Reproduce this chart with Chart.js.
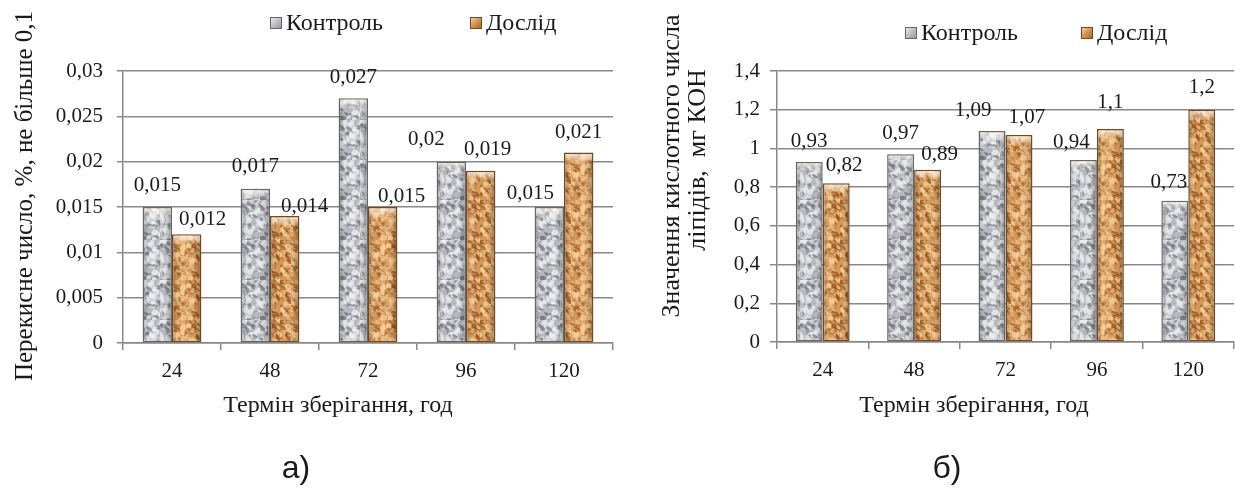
<!DOCTYPE html>
<html lang="uk">
<head>
<meta charset="utf-8">
<title>Перекисне та кислотне число</title>
<script src="https://cdn.jsdelivr.net/npm/chart.js@4.4.1/dist/chart.umd.min.js"></script>
<style>
  html, body { margin:0; padding:0; background:#fff; }
  #page { position:relative; width:1235px; height:492px; overflow:hidden; }
  canvas { position:absolute; top:0; }
  #chartA { left:0; }
  #chartB { left:640px; }
</style>
</head>
<body>
<div id="page">
  <canvas id="chartA" width="617" height="492"></canvas>
  <canvas id="chartB" width="595" height="492"></canvas>
</div>

<script>
// дані з рисунка
const hours = ['24', '48', '72', '96', '120'];
const seriesNames = ['Контроль', 'Дослід'];

const peroxideControl = [0.015, 0.017, 0.027, 0.02, 0.015];
const peroxideTest    = [0.012, 0.014, 0.015, 0.019, 0.021];
const peroxideTicks   = [0, 0.005, 0.01, 0.015, 0.02, 0.025, 0.03];

const acidControl = [0.93, 0.97, 1.09, 0.94, 0.73];
const acidTest    = [0.82, 0.89, 1.07, 1.1, 1.2];
const acidTicks   = [0, 0.2, 0.4, 0.6, 0.8, 1, 1.2, 1.4];

const xTitle = 'Термін зберігання, год';
const yTitleA = 'Перекисне число, %, не більше 0,1';
const yTitleB = ['Значення кислотного числа', 'ліпідів,  мг КОН'];

const GRID = '#888888';
const INK = '#1a1a1a';
const SERIF = '"Liberation Serif", "Times New Roman", serif';
const SANS = '"Liberation Sans", Arial, sans-serif';

const comma = (v) => String(+(+v).toFixed(3)).replace('.', ',');

// deterministic hash for the stone texture (decoration only)
const hash = (n) => { const s = Math.sin(n * 127.1 + 311.7) * 43758.5453; return s - Math.floor(s); };

function texture(ctx, tone, seed){
  const c = document.createElement('canvas');
  c.width = 40; c.height = 40;
  const g = c.getContext('2d');
  g.fillStyle = tone.base;
  g.fillRect(0, 0, 40, 40);
  for(let i = 0; i < 200; i++){
    const a = hash(seed + i * 4), b = hash(seed + i * 4 + 1), r = hash(seed + i * 4 + 2), k = hash(seed + i * 4 + 3);
    g.globalAlpha = 0.3 + 0.5 * r;
    g.fillStyle = k > 0.5 ? tone.light : tone.dark;
    g.beginPath();
    g.ellipse(a * 40, b * 40, 0.8 + 2.6 * r, 0.8 + 2.2 * k, k * 3, 0, Math.PI * 2);
    g.fill();
  }
  g.globalAlpha = 1;
  return ctx.createPattern(c, 'repeat');
}

const GRAY  = { base:'#b6b8bd', dark:'#72757e', light:'#eeeff1', edge:'#66676b', sw:['#f2f2f3', '#c3c4c8', '#8e9097'] };
const BROWN = { base:'#d4975a', dark:'#99581f', light:'#f4cd98', edge:'#75491f', sw:['#f8dcae', '#d7995a', '#9c5f27'] };

// bevel look of the bars
const bevel = {
  id: 'bevel',
  afterDatasetsDraw(chart){
    const ctx = chart.ctx;
    chart.data.datasets.forEach((ds, di) => {
      chart.getDatasetMeta(di).data.forEach(bar => {
        const { x, y, base, width } = bar.getProps(['x', 'y', 'base', 'width'], true);
        const l = x - width / 2, h = base - y;
        ctx.save();
        let g = ctx.createLinearGradient(l, 0, l + width, 0);
        g.addColorStop(0, 'rgba(0,0,0,0.25)');
        g.addColorStop(0.2, 'rgba(0,0,0,0)');
        g.addColorStop(0.75, 'rgba(0,0,0,0)');
        g.addColorStop(1, 'rgba(0,0,0,0.32)');
        ctx.fillStyle = g;
        ctx.fillRect(l + 1.5, y + 1.5, width - 3, h - 3);
        g = ctx.createLinearGradient(0, y, 0, y + 10);
        g.addColorStop(0, 'rgba(255,250,240,0.9)');
        g.addColorStop(1, 'rgba(255,250,240,0)');
        ctx.fillStyle = g;
        ctx.fillRect(l + 1.5, y + 1.5, width - 3, Math.min(10, h - 3));
        ctx.restore();
      });
    });
  }
};

// value labels above bars
const valueLabels = {
  id: 'valueLabels',
  afterDatasetsDraw(chart, args, opts){
    const ctx = chart.ctx;
    ctx.save();
    ctx.font = `21px ${SERIF}`;
    ctx.fillStyle = INK;
    ctx.textAlign = 'center';
    ctx.textBaseline = 'middle';
    chart.data.datasets.forEach((ds, di) => {
      const nudge = opts.nudge[di];
      chart.getDatasetMeta(di).data.forEach((bar, i) => {
        ctx.fillText(comma(ds.data[i]), bar.x + nudge.dx[i], bar.y - nudge.dy[i]);
      });
    });
    ctx.restore();
  }
};

// legend: small bevelled square + name
const swatchLegend = {
  id: 'swatchLegend',
  afterDraw(chart, args, opts){
    const ctx = chart.ctx;
    ctx.save();
    ctx.font = `24px ${SERIF}`;
    ctx.textAlign = 'left';
    ctx.textBaseline = 'middle';
    chart.data.datasets.forEach((ds, i) => {
      const tone = opts.tones[i], x = opts.x[i], y = opts.y;
      const g = ctx.createLinearGradient(x, y - 6, x + 12, y + 6);
      g.addColorStop(0, tone.sw[0]); g.addColorStop(0.45, tone.sw[1]); g.addColorStop(1, tone.sw[2]);
      ctx.fillStyle = g;
      ctx.fillRect(x, y - 6, 12, 12);
      ctx.strokeStyle = tone.edge; ctx.lineWidth = 1;
      ctx.strokeRect(x + 0.5, y - 5.5, 11, 11);
      ctx.fillStyle = INK;
      ctx.fillText(ds.label, x + 16, y + 1);
    });
    ctx.restore();
  }
};

// axis titles and captions
const captions = {
  id: 'captions',
  afterDraw(chart, args, opts){
    const ctx = chart.ctx;
    opts.items.forEach(it => {
      ctx.save();
      ctx.font = `${it.size}px ${it.family || SERIF}`;
      ctx.fillStyle = INK;
      ctx.textAlign = 'center';
      ctx.textBaseline = 'middle';
      ctx.translate(it.x, it.y);
      if(it.rot) ctx.rotate(it.rot);
      ctx.fillText(it.text, 0, 0);
      ctx.restore();
    });
  }
};

function makeChart(id, o){
  const canvas = document.getElementById(id);
  const ctx = canvas.getContext('2d');
  return new Chart(ctx, {
    type: 'bar',
    data: {
      labels: hours,
      datasets: [
        { label: seriesNames[0], data: o.control, backgroundColor: texture(ctx, GRAY, 11), borderColor: GRAY.edge, borderWidth: 1.5, borderSkipped: false },
        { label: seriesNames[1], data: o.test, backgroundColor: texture(ctx, BROWN, 57), borderColor: BROWN.edge, borderWidth: 1.5, borderSkipped: false }
      ]
    },
    options: {
      responsive: false,
      animation: false,
      events: [],
      layout: { padding: { top: o.top, right: o.right, left: 0, bottom: 0 } },
      datasets: { bar: { categoryPercentage: o.cat, barPercentage: 1 } },
      plugins: {
        legend: { display: false },
        tooltip: { enabled: false },
        valueLabels: { nudge: o.nudge },
        swatchLegend: { tones: [GRAY, BROWN], x: o.legendX, y: o.legendY },
        captions: { items: o.texts }
      },
      scales: {
        x: {
          grid: { offset: true, drawOnChartArea: false, color: GRID, lineWidth: 1.5, tickLength: 7 },
          border: { color: GRID, width: 1.5 },
          ticks: { color: INK, font: { family: SERIF, size: 21 }, padding: 9 },
          afterFit: (s) => { s.height = o.xh; }
        },
        y: {
          min: o.ticks[0],
          max: o.ticks[o.ticks.length - 1],
          ticks: { stepSize: o.ticks[1] - o.ticks[0], color: INK, font: { family: SERIF, size: 21 }, padding: o.tickPad, callback: (v) => comma(v) },
          grid: { color: GRID, lineWidth: 1.5, tickLength: o.tickLen },
          border: { color: GRID, width: 1.5 },
          afterFit: (s) => { s.width = o.yw; }
        }
      }
    },
    plugins: [bevel, valueLabels, swatchLegend, captions]
  });
}

const UP = -Math.PI / 2;

makeChart('chartA', {
  control: peroxideControl, test: peroxideTest, ticks: peroxideTicks,
  top: 71, right: 4, xh: 149, yw: 123, tickLen: 6, tickPad: 14, cat: 0.6,
  legendX: [270, 470], legendY: 23,
  texts: [
    { text: yTitleA, x: 25, y: 196, size: 25, rot: UP },
    { text: xTitle, x: 338, y: 406, size: 24 },
    { text: 'а)', x: 296, y: 469, size: 32, family: SANS }
  ],
  nudge: [
    { dx: [0, 0, 0, -25, -19], dy: [22, 22, 21, 22, 14] },
    { dx: [16, 20, 19, 7, 0],  dy: [15, 10, 11, 21, 20] }
  ]
});

makeChart('chartB', {
  control: acidControl, test: acidTest, ticks: acidTicks,
  top: 71, right: 1, xh: 150, yw: 137, tickLen: 7, tickPad: 10, cat: 0.59,
  legendX: [265, 441], legendY: 33,
  texts: [
    { text: yTitleB[0], x: 32, y: 166, size: 26, rot: UP },
    { text: yTitleB[1], x: 58, y: 160, size: 26, rot: UP },
    { text: xTitle, x: 334, y: 406, size: 24 },
    { text: 'б)', x: 307, y: 469, size: 32, family: SANS }
  ],
  nudge: [
    { dx: [0, 0, -19, -12, -6], dy: [20, 21, 21, 18, 18] },
    { dx: [8, 12, 8, 0, 0],     dy: [18, 15, 17, 27, 22] }
  ]
});
</script>
</body>
</html>
